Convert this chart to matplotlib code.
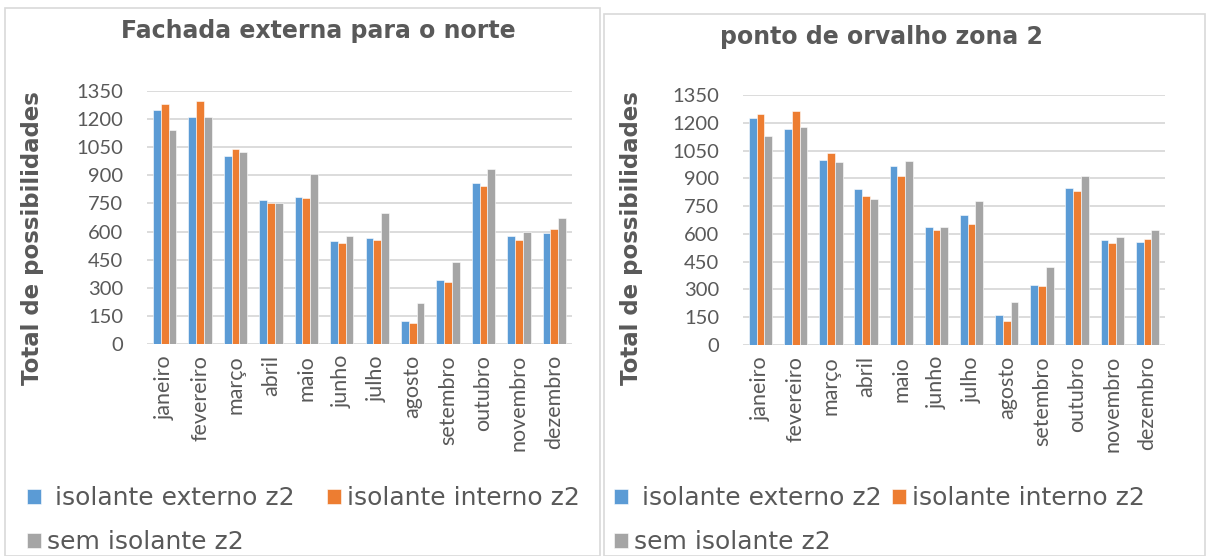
import numpy as np
import matplotlib.pyplot as plt
from matplotlib.patches import Rectangle

# months on the x axis
meses = ["janeiro", "fevereiro", "março", "abril", "maio", "junho",
         "julho", "agosto", "setembro", "outubro", "novembro", "dezembro"]

# left chart: fachada externa para o norte
norte_ext = [1249, 1210, 1003, 768, 787, 549, 565, 125, 340, 857, 575, 591]
norte_int = [1281, 1295, 1039, 752, 777, 540, 556, 110, 333, 843, 554, 613]
norte_sem = [1142, 1210, 1023, 752, 907, 575, 700, 217, 440, 933, 600, 672]

# right chart: ponto de orvalho zona 2
orv_ext = [1224, 1168, 999, 840, 965, 639, 700, 161, 325, 850, 565, 554]
orv_int = [1247, 1265, 1039, 802, 915, 621, 651, 129, 318, 834, 551, 571]
orv_sem = [1129, 1179, 990, 789, 992, 639, 775, 233, 420, 915, 585, 619]

rotulos = [" isolante externo z2", "isolante interno z2", "sem isolante z2"]
cores = ["#5B9BD5", "#ED7D31", "#A5A5A5"]
yticks = [0, 150, 300, 450, 600, 750, 900, 1050, 1200, 1350]

CINZA = "#595959"
W, H = 1206, 556

fig = plt.figure(figsize=(W / 100, H / 100), dpi=100)


def fx(px):
    return px / W


def fy(py):
    return 1 - py / H


# panel frames
fig.patches.append(Rectangle((fx(5), 0), fx(595), fy(8), transform=fig.transFigure,
                             fill=False, edgecolor="#d9d9d9", lw=1.2))
fig.patches.append(Rectangle((fx(604), 0), fx(601), fy(14), transform=fig.transFigure,
                             fill=False, edgecolor="#d9d9d9", lw=1.2))


def grafico(rect, titulo, tpos, series, ylab_x, leg_pos, colsp):
    ax = fig.add_axes(rect)
    x = np.arange(len(meses))
    w = 0.22
    barras = []
    for i, (vals, c) in enumerate(zip(series, cores)):
        b = ax.bar(x + (i - 1) * w, vals, w, color=c, edgecolor="white", linewidth=0.4,
                   label=rotulos[i], zorder=3)
        barras.append(b)
    ax.set_ylim(0, 1350)
    ax.set_xlim(-0.5, len(meses) - 0.5)
    ax.set_yticks(yticks)
    ax.set_yticklabels([str(v) for v in yticks], fontsize=14.5, color=CINZA, family="Lato")
    ax.set_xticks(x)
    ax.set_xticklabels(meses, rotation=90, fontsize=15.5, color=CINZA, family="Lato")
    ax.tick_params(axis="y", length=0, pad=17)
    ax.tick_params(axis="x", length=0, pad=8)
    ax.grid(axis="y", color="#d9d9d9", lw=1.3, zorder=0)
    for s in ax.spines.values():
        s.set_visible(False)
    ax.set_ylabel("Total de possibilidades", fontsize=16.5, fontweight="bold",
                  color=CINZA, family="DejaVu Sans")
    ax.yaxis.set_label_coords(ylab_x, fy(238), transform=fig.transFigure)
    fig.text(fx(tpos[0]), fy(tpos[1]), titulo, ha="center", va="center",
             fontsize=17, fontweight="bold", color=CINZA, family="DejaVu Sans")
    # column-major fill: ext / sem in the first column, int in the second
    ordem = [0, 2, 1]
    fig.legend(handles=[barras[k] for k in ordem], labels=[rotulos[k] for k in ordem],
               ncol=2, frameon=False,
               loc="upper left", bbox_to_anchor=(fx(leg_pos[0]), fy(leg_pos[1])),
               fontsize=18, labelcolor=CINZA, handlelength=0.56, handleheight=0.56,
               handletextpad=0.25, columnspacing=colsp, labelspacing=0.8,
               borderaxespad=0, borderpad=0)
    return ax


grafico([fx(147), fy(344), fx(572) - fx(147), fy(91) - fy(344)],
        "Fachada externa para o norte", (318, 31),
        [norte_ext, norte_int, norte_sem], fx(44), (27, 486), 1.28)
grafico([fx(743), fy(345), fx(1165) - fx(743), fy(95) - fy(345)],
        "ponto de orvalho zona 2", (881, 37),
        [orv_ext, orv_int, orv_sem], fx(643), (614, 486), 0.4)

fig.savefig("out.png", dpi=100)
